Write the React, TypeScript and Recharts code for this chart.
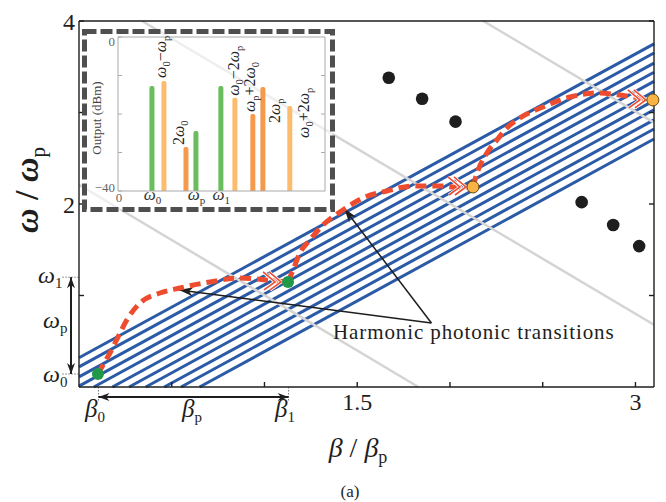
import React from 'react';
import {
  ComposedChart,
  Line,
  Scatter,
  XAxis,
  YAxis,
  ReferenceLine,
  BarChart,
  Bar,
  Cell,
  LabelList,
} from 'recharts';

const SERIF = "'Liberation Serif', 'Times New Roman', 'DejaVu Serif', serif";
const BLUE = '#2b5aa6';
const RED = '#ee4c2e';
const GUIDE = '#d4d4d4';
const INK = '#1e1e1e';
const serif = { fontFamily: SERIF };

// ---------- main panel ----------
const X_DOMAIN: [number, number] = [0, 3.1];
const Y_DOMAIN: [number, number] = [0, 4];
const xTicks = [0.5, 1, 1.5, 2, 2.5, 3];
const xTickLabels = [1.5, 3];
const yTicks = [1, 2, 3, 4];
const yTickLabels = [2, 4];

// blue band: each stripe from where it enters the frame to the right edge
const stripeStartX = [0, 0, 0, 0, 0.08, 0.18, 0.27, 0.36, 0.46, 0.55, 0.65];
const stripeStartY = [0.32, 0.22, 0.11, 0.01, 0, 0, 0, 0, 0, 0, 0];
const stripeEndX = [3.1, 3.1, 3.1, 3.1, 3.1, 3.1, 3.1, 3.1, 3.1, 3.1, 3.1];
const stripeEndY = [3.75, 3.65, 3.54, 3.44, 3.34, 3.23, 3.13, 3.03, 2.92, 2.82, 2.71];

// light grey light-lines
const guideX1 = [0.34, 2.18, 0];
const guideY1 = [4, 4, 2.21];
const guideX2 = [3.1, 3.1, 1.83];
const guideY2 = [0.68, 2.89, 0];

// black dots (higher bands)
const bandDotX = [1.67, 1.85, 2.03, 2.71, 2.88, 3.02];
const bandDotY = [3.38, 3.15, 2.9, 2.02, 1.77, 1.54];

// red transition paths
const path1X = [0.102, 0.135, 0.167, 0.21, 0.264, 0.329, 0.437, 0.544, 0.706, 0.868, 1.013, 1.127];
const path1Y = [0.142, 0.26, 0.372, 0.546, 0.754, 0.918, 1.027, 1.082, 1.148, 1.191, 1.169, 1.148];
const path2X = [1.127, 1.154, 1.191, 1.245, 1.315, 1.423, 1.531, 1.66, 1.801, 1.946, 2.054, 2.124];
const path2Y = [1.148, 1.279, 1.464, 1.607, 1.77, 1.934, 2.066, 2.142, 2.197, 2.197, 2.18, 2.186];
const path3X = [2.124, 2.146, 2.199, 2.253, 2.307, 2.377, 2.501, 2.647, 2.792, 2.916, 3.024, 3.094];
const path3Y = [2.186, 2.339, 2.557, 2.699, 2.831, 2.94, 3.06, 3.169, 3.213, 3.191, 3.158, 3.137];

// transition end points
const modeX = [0.102, 1.127, 2.124, 3.094];
const modeY = [0.142, 1.148, 2.186, 3.137];
const modeFill = ['#1f9848', '#1f9848', '#f8b343', '#f8b343'];

// annotation values
const OMEGA0 = 0.142;
const OMEGA1 = 1.2;
const BETA0 = 0.105;
const BETA1 = 1.13;
const noteFrom = { x: 1.9, y: 0.7 };
const noteTipX = [0.54, 1.43];
const noteTipY = [1.06, 1.95];

// ---------- inset spectrum ----------
const specFreq = [0.439, 0.592, 0.873, 1.0, 1.318, 1.497, 1.726, 1.854, 2.197];
const specDbm = [-12.7, -11.4, -28.6, -24.4, -12.7, -15.8, -20.0, -13.0, -17.9];
const specName = ['ω_0', 'ω_0−ω_p', '2ω_0', 'ω_p', 'ω_1', 'ω_0−2ω_p', 'ω_p+2ω_0', '2ω_p', 'ω_0+2ω_p'];
const specKind = ['in', 'diff', 'sum', 'in', 'in', 'diff', 'sum', 'sum', 'diff'];
const specTicks = [0, 0.439, 1.0, 1.318];
const SPEC_MAX = 2.64;

const kindColor: Record<string, string> = { in: '#6abd5c', diff: '#fdbb6e', sum: '#f59a4d' };
// where each rotated bar label sits relative to its bar top (px)
const specLabelShift: (number[] | null)[] = [null, [2.5, -3], [-1.5, -2], null, null, [4.5, -2], [2.5, -2], [17.5, 36], [19.5, 32]];

function mathSpans(src: string, sub: number, shift: number) {
  const parts: { t: string; sub: boolean; greek: boolean }[] = [];
  for (let i = 0; i < src.length; i++) {
    const isSub = src[i] === '_';
    const ch = isSub ? src[++i] : src[i];
    const greek = /[ωβ]/.test(ch);
    const last = parts[parts.length - 1];
    if (last && last.sub === isSub && last.greek === greek) last.t += ch;
    else parts.push({ t: ch, sub: isSub, greek });
  }
  let low = false;
  return parts.map((p, k) => {
    let dy = 0;
    if (p.sub && !low) { dy = shift; low = true; }
    else if (!p.sub && low) { dy = -shift; low = false; }
    return (
      <tspan key={k} dy={dy || undefined} fontSize={p.sub ? sub : undefined} fontStyle={p.greek ? 'italic' : 'normal'} fontWeight={p.sub ? 'normal' : undefined}>
        {p.t}
      </tspan>
    );
  });
}

function headPath(x1: number, y1: number, x2: number, y2: number, len = 14, half = 4.5) {
  const a = Math.atan2(y2 - y1, x2 - x1);
  const c = Math.cos(a);
  const s = Math.sin(a);
  const bx = x2 - len * c;
  const by = y2 - len * s;
  const nx = x2 - len * 0.7 * c;
  const ny = y2 - len * 0.7 * s;
  return `M${x2},${y2} L${bx - half * s},${by + half * c} L${nx},${ny} L${bx + half * s},${by - half * c} Z`;
}

const arrowShape = (both: boolean, len = 14, half = 4.5, width = 1.5) => (p: any) => (
  <g>
    <line x1={p.x1} y1={p.y1} x2={p.x2} y2={p.y2} stroke={INK} strokeWidth={width} />
    <path d={headPath(p.x1, p.y1, p.x2, p.y2, len, half)} fill={INK} />
    {both && <path d={headPath(p.x2, p.y2, p.x1, p.y1, len, half)} fill={INK} />}
  </g>
);

const chevrons = (last: number) => (p: any) => {
  if (p.index !== last) return <g key={`c${p.index}`} />;
  const { cx, cy } = p;
  const segs = [0, 6].map((o) => `M${cx - 19 - o},${cy - 10} L${cx - 7 - o},${cy} L${cx - 18 - o},${cy + 8}`);
  return (
    <g key={`c${p.index}`}>
      {segs.map((d, k) => <path key={`w${k}`} d={d} fill="none" stroke="#fff" strokeWidth={3.2} />)}
      {segs.map((d, k) => <path key={`r${k}`} d={d} fill="none" stroke={RED} strokeWidth={1.6} />)}
    </g>
  );
};

const bottomTick = (p: any) =>
  xTickLabels.includes(p.payload.value) ? (
    <text x={p.x} y={p.y} dy={23} textAnchor="middle" fontFamily={SERIF} style={serif} fontSize={24} fill={INK}>
      {p.payload.value}
    </text>
  ) : <g />;

const leftTick = (p: any) =>
  yTickLabels.includes(p.payload.value) ? (
    <text x={p.x} y={p.y} dy={8.5} textAnchor="end" fontFamily={SERIF} style={serif} fontSize={24} fill={INK}>
      {p.payload.value}
    </text>
  ) : <g />;

const noTick = () => <g />;

function Spectrum() {
  const data = specFreq.map((f, i) => ({ f, range: [-40, specDbm[i]] }));
  const specTick = (p: any) => {
    const v = p.payload.value;
    if (v === 0) {
      return <text x={p.x + 1} y={p.y} dy={11} textAnchor="middle" style={serif} fontSize={13} fill="#666">0</text>;
    }
    const i = specFreq.indexOf(v);
    return (
      <text x={p.x} y={p.y} dy={9} textAnchor="middle" style={serif} fontSize={17} fill="#333">
        {mathSpans(specName[i], 11, 4)}
      </text>
    );
  };
  const dbTick = (p: any) => {
    const v = p.payload.value;
    if (v !== 0 && v !== -40) return <g />;
    return (
      <text x={p.x} y={p.y} dy={v === 0 ? 9 : 1} textAnchor="end" style={serif} fontSize={13} fill="#666">
        {v === 0 ? '0' : '−40'}
      </text>
    );
  };
  const barLabel = (p: any) => {
    const vb = p.viewBox || p;
    const i = p.index;
    const off = specLabelShift[i];
    if (!off) return <g />;
    const ax = vb.x + vb.width / 2 + off[0];
    const ay = vb.y + off[1];
    return (
      <text x={ax} y={ay} transform={`rotate(-90 ${ax} ${ay})`} style={serif} fontSize={16} fill="#222">
        {mathSpans(specName[i], 10.5, 4)}
      </text>
    );
  };
  const frame = { stroke: '#aaa' };
  return (
    <div style={{ position: 'absolute', left: 82, top: 29, width: 253, height: 183 }}>
      <svg width={253} height={183} style={{ position: 'absolute', left: 0, top: 0 }}>
        <rect x={2.5} y={2.5} width={248} height={178} fill="rgba(255,255,255,0.6)" stroke="#4f4f4f" strokeWidth={5} strokeDasharray="12 4" />
        <text transform="rotate(-90 19 89)" x={19} y={89} textAnchor="middle" style={serif} fontSize={13} fill="#444">
          Output (dBm)
        </text>
      </svg>
      <div style={{ position: 'absolute', left: 0, top: 0 }}>
        <BarChart width={253} height={183} data={data} margin={{ top: 7, right: 9, bottom: 20, left: 35 }}>
          <XAxis type="number" dataKey="f" domain={[0, SPEC_MAX]} ticks={specTicks} height={1} tickLine={false} tickSize={0} tickMargin={0} axisLine={frame} tick={specTick} interval={0} />
          <XAxis xAxisId="t" orientation="top" type="number" domain={[0, SPEC_MAX]} allowDataOverflow height={1} tick={false} tickLine={false} axisLine={frame} />
          <YAxis type="number" domain={[-40, 0]} ticks={[-40, -30, -20, -10, 0]} width={1} tickSize={-4} tickMargin={7} tickLine={frame} axisLine={frame} tick={dbTick} interval={0} />
          <YAxis yAxisId="r" orientation="right" type="number" domain={[-40, 0]} allowDataOverflow ticks={[-30, -20, -10]} width={1} tickSize={-4} tickLine={frame} axisLine={frame} tick={noTick} interval={0} />
          <Bar dataKey="range" barSize={5} radius={[2, 2, 0, 0]} isAnimationActive={false}>
            {data.map((_, i) => (
              <Cell key={`s-${i}`} fill={kindColor[specKind[i]]} />
            ))}
            <LabelList dataKey="range" content={barLabel} />
          </Bar>
        </BarChart>
      </div>
    </div>
  );
}

export default function App() {
  const stripes = stripeStartX.map((x, i) => [
    { x, y: stripeStartY[i] },
    { x: stripeEndX[i], y: stripeEndY[i] },
  ]);
  const guides = guideX1.map((x, i) => [
    { x, y: guideY1[i] },
    { x: guideX2[i], y: guideY2[i] },
  ]);
  const paths = [
    path1X.map((x, i) => ({ x, y: path1Y[i] })),
    path2X.map((x, i) => ({ x, y: path2Y[i] })),
    path3X.map((x, i) => ({ x, y: path3Y[i] })),
  ];
  const bandDots = bandDotX.map((x, i) => ({ x, y: bandDotY[i] }));
  const modes = modeX.map((x, i) => ({ x, y: modeY[i], fill: modeFill[i] }));
  const axisStroke = { stroke: INK, strokeWidth: 1.4 };
  const t = { fontFamily: SERIF, style: serif, fill: INK };

  return (
    <div style={{ position: 'absolute', left: 0, top: 0, width: 666, height: 502, background: '#fff', fontFamily: SERIF }}>
      <ComposedChart width={666} height={502} margin={{ top: 20, right: 11, bottom: 114, left: 78 }}>
        <XAxis type="number" dataKey="x" domain={X_DOMAIN} ticks={xTicks} height={1} tickSize={-5} tickMargin={5} axisLine={axisStroke} tickLine={axisStroke} tick={bottomTick} interval={0} />
        <XAxis xAxisId="t" orientation="top" type="number" domain={X_DOMAIN} allowDataOverflow ticks={xTicks} height={1} tickSize={-5} axisLine={axisStroke} tickLine={axisStroke} tick={noTick} interval={0} />
        <YAxis type="number" dataKey="y" domain={Y_DOMAIN} ticks={yTicks} width={1} tickSize={-5} tickMargin={9} axisLine={axisStroke} tickLine={axisStroke} tick={leftTick} interval={0} />
        <YAxis yAxisId="r" orientation="right" type="number" domain={Y_DOMAIN} allowDataOverflow ticks={yTicks} width={1} tickSize={-5} axisLine={axisStroke} tickLine={axisStroke} tick={noTick} interval={0} />

        {stripes.map((d, i) => (
          <Line key={`band-${i}`} data={d} dataKey="y" type="linear" stroke={BLUE} strokeWidth={3} dot={false} activeDot={false} isAnimationActive={false} />
        ))}
        {guides.map((d, i) => (
          <Line key={`guide-${i}`} data={d} dataKey="y" type="linear" stroke={GUIDE} strokeWidth={2.5} dot={false} activeDot={false} isAnimationActive={false} />
        ))}

        <ReferenceLine segment={[noteFrom, { x: noteTipX[0], y: noteTipY[0] }]} ifOverflow="visible" shape={arrowShape(false)} />
        <ReferenceLine segment={[noteFrom, { x: noteTipX[1], y: noteTipY[1] }]} ifOverflow="visible" shape={arrowShape(false)} />

        {paths.map((d, i) => (
          <Line key={`path-${i}`} data={d} dataKey="y" type="monotone" stroke={RED} strokeWidth={5} strokeDasharray="11 6" dot={chevrons(d.length - 1)} activeDot={false} isAnimationActive={false} />
        ))}

        <Scatter data={bandDots} isAnimationActive={false} shape={(p: any) => <circle cx={p.cx} cy={p.cy} r={6.3} fill={INK} />} />
        <Scatter data={modes} isAnimationActive={false} shape={(p: any) => <circle cx={p.cx} cy={p.cy} r={6} fill={p.payload.fill} stroke={p.payload.fill === '#f8b343' ? '#6a4a10' : 'none'} strokeWidth={1} />} />

        {/* omega / beta annotation marks outside the frame */}
        <ReferenceLine segment={[{ x: -0.09, y: OMEGA1 }, { x: 0, y: OMEGA1 }]} ifOverflow="visible" stroke="#777" strokeDasharray="1.5 1.5" />
        <ReferenceLine segment={[{ x: -0.09, y: OMEGA0 }, { x: 0, y: OMEGA0 }]} ifOverflow="visible" stroke="#777" strokeDasharray="1.5 1.5" />
        <ReferenceLine segment={[{ x: -0.043, y: OMEGA0 }, { x: -0.043, y: OMEGA1 }]} ifOverflow="visible" shape={arrowShape(true, 11, 4, 2)} />
        <ReferenceLine segment={[{ x: BETA0, y: 0 }, { x: BETA0, y: -0.15 }]} ifOverflow="visible" stroke="#777" strokeDasharray="1.5 1.5" />
        <ReferenceLine segment={[{ x: BETA1, y: 0 }, { x: BETA1, y: -0.15 }]} ifOverflow="visible" stroke="#777" strokeDasharray="1.5 1.5" />
        <ReferenceLine segment={[{ x: BETA0, y: -0.11 }, { x: BETA1, y: -0.11 }]} ifOverflow="visible" shape={arrowShape(true, 11, 4, 2)} />
      </ComposedChart>

      <Spectrum />

      <svg width={666} height={502} style={{ position: 'absolute', left: 0, top: 0, pointerEvents: 'none' }}>
        <text {...t} transform="rotate(-90 38 190)" x={38} y={190} textAnchor="middle" fontSize={34} fontWeight="bold">
          {mathSpans('ω / ω_p', 21, 7)}
        </text>
        <text {...t} x={358} y={457} textAnchor="middle" fontSize={28}>
          {mathSpans('β / β_p', 18, 6)}
        </text>
        <text {...t} x={350} y={497} textAnchor="middle" fontSize={17}>(a)</text>
        <text {...t} x={333} y={339} fontSize={21} letterSpacing={0.9}>Harmonic photonic transitions</text>
        <text {...t} x={38} y={283} fontSize={24}>{mathSpans('ω_1', 15, 5)}</text>
        <text {...t} x={43} y={328} fontSize={24}>{mathSpans('ω_p', 15, 5)}</text>
        <text {...t} x={43} y={382} fontSize={24}>{mathSpans('ω_0', 15, 5)}</text>
        <text {...t} x={85} y={417} fontSize={25}>{mathSpans('β_0', 15, 5)}</text>
        <text {...t} x={182} y={417} fontSize={25}>{mathSpans('β_p', 15, 5)}</text>
        <text {...t} x={275} y={417} fontSize={25}>{mathSpans('β_1', 15, 5)}</text>
      </svg>
    </div>
  );
}
